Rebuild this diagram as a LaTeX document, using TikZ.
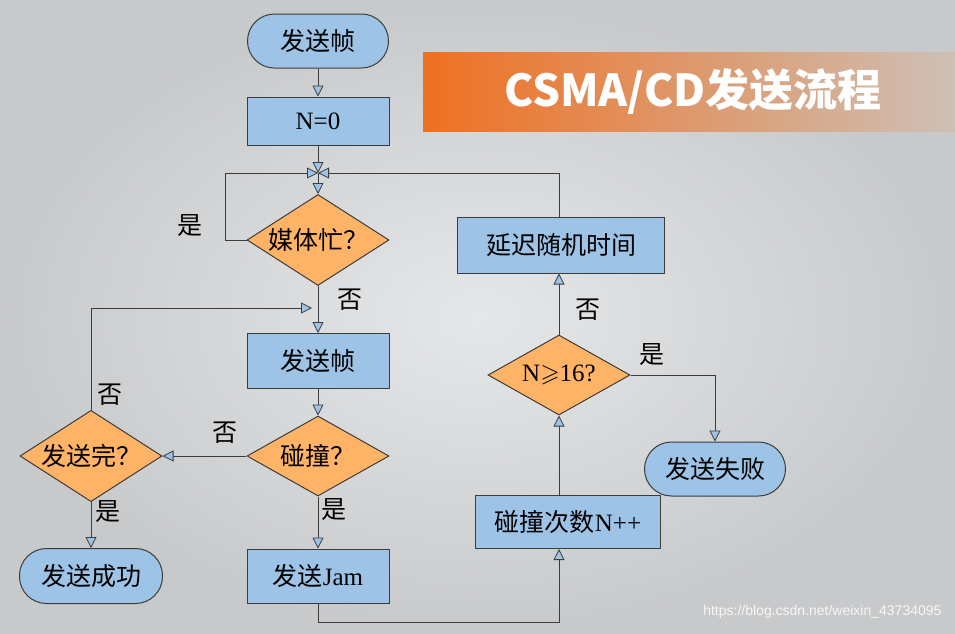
\documentclass[tikz,border=0pt]{standalone}
\usepackage{amssymb}
\usepackage{fontspec}
\setmainfont{Liberation Serif}
\newfontfamily\cjk{Noto Sans CJK SC}
\newfontfamily\webfont{Liberation Sans}
\usetikzlibrary{shapes.geometric,arrows.meta}
\definecolor{flowblue}{HTML}{9DC3E6}
\definecolor{floworange}{HTML}{FFB366}
\definecolor{flowline}{HTML}{3C3C3C}
\definecolor{bglight}{HTML}{E6E7E9}
\definecolor{bgdark}{HTML}{C8C9CB}
\definecolor{bannerleft}{HTML}{EF7021}
\definecolor{bannerright}{HTML}{CDC0B6}

\begin{document}
\begin{tikzpicture}[x=1pt,y=-1pt,font=\fontsize{25}{30}\selectfont,
  box/.style={draw=flowline,line width=1pt,fill=flowblue,minimum width=142pt,minimum height=55pt,inner sep=0pt},
  term/.style={box,rounded corners=27pt},
  ask/.style={diamond,draw=flowline,line width=1pt,fill=floworange,minimum width=142pt,minimum height=80pt,inner sep=-8pt},
  flow/.style={draw=flowline,line width=1pt,-{Triangle[length=11pt,width=11pt,fill=flowblue,line width=0.8pt]}},
  tag/.style={inner sep=0pt}]
\shade[inner color=bglight,outer color=bgdark] (0,0) rectangle (955,633);
\useasboundingbox (0,0) rectangle (955,633);
\shade[left color=bannerleft,right color=bannerright] (423,52) rectangle (955,131);
\node[text=white,font=\cjk\bfseries\fontsize{44}{52}\selectfont] (title) at (693,92) {CSMA/CD发送流程};

\node[term,minimum width=141pt,minimum height=54pt] (start) at (318,41) {\cjk 发送帧};
\node[box,minimum height=48pt] (n0) at (318,121) {N=0};
\coordinate (j) at (318,173);
\node[ask] (busy) at (318,240) {\cjk 媒体忙？};
\node[box] (send) at (318,361) {\cjk 发送帧};
\node[ask] (coll) at (318,456) {\cjk 碰撞？};
\node[ask] (done) at (91,456) {\cjk 发送完？};
\node[term,minimum width=143pt] (ok) at (91,576) {\cjk 发送成功};
\node[box,minimum height=54pt] (jam) at (318,576) {{\cjk 发送}Jam};
\node[box,minimum width=185pt,minimum height=53pt] (cnt) at (568,522) {{\cjk 碰撞次数}N++};
\node[ask] (n16) at (559,375) {N$\geqslant$16?};
\node[box,minimum width=207pt,minimum height=56pt] (delay) at (561,245) {\cjk 延迟随机时间};
\node[term,minimum width=141pt,minimum height=54pt] (fail) at (715,469) {\cjk 发送失败};
\coordinate (back) at (312,308);

\draw[flow] (start) -- (n0);
\draw[flow] (n0) -- (j);
\draw[flow] (j) -- (busy);
\draw[flow] (busy.west) -- ++(-21,0) |- (j);
\draw[flow] (delay.north -| n16) |- (j);
\draw[flow] (busy) -- (send);
\draw[flow] (done.north) |- (back);
\draw[flow] (send) -- (coll);
\draw[flow] (coll) -- (done);
\draw[flow] (done) -- (ok);
\draw[flow] (coll) -- (jam);
\draw[flow] (jam.south) -- ++(0,19) -| (n16 |- cnt.south);
\draw[flow] (n16 |- cnt.north) -- (n16);
\draw[flow] (n16) -- (n16 |- delay.south);
\draw[flow] (n16.east) -| (fail);

\node[tag] (busyyes) at (190,226) {\cjk 是};
\node[tag] (busyno) at (350,300) {\cjk 否};
\node[tag] (doneno) at (110,395) {\cjk 否};
\node[tag] (collno) at (225,433) {\cjk 否};
\node[tag] (doneyes) at (108,512) {\cjk 是};
\node[tag] (collyes) at (334,510) {\cjk 是};
\node[tag] (n16no) at (588,310) {\cjk 否};
\node[tag] (n16yes) at (652,355) {\cjk 是};
\node[text=white!94!gray,font=\webfont\fontsize{14}{16}\selectfont,anchor=east] (mark) at (945,612) {https://blog.csdn.net/weixin\_43734095};
\end{tikzpicture}
\end{document}
